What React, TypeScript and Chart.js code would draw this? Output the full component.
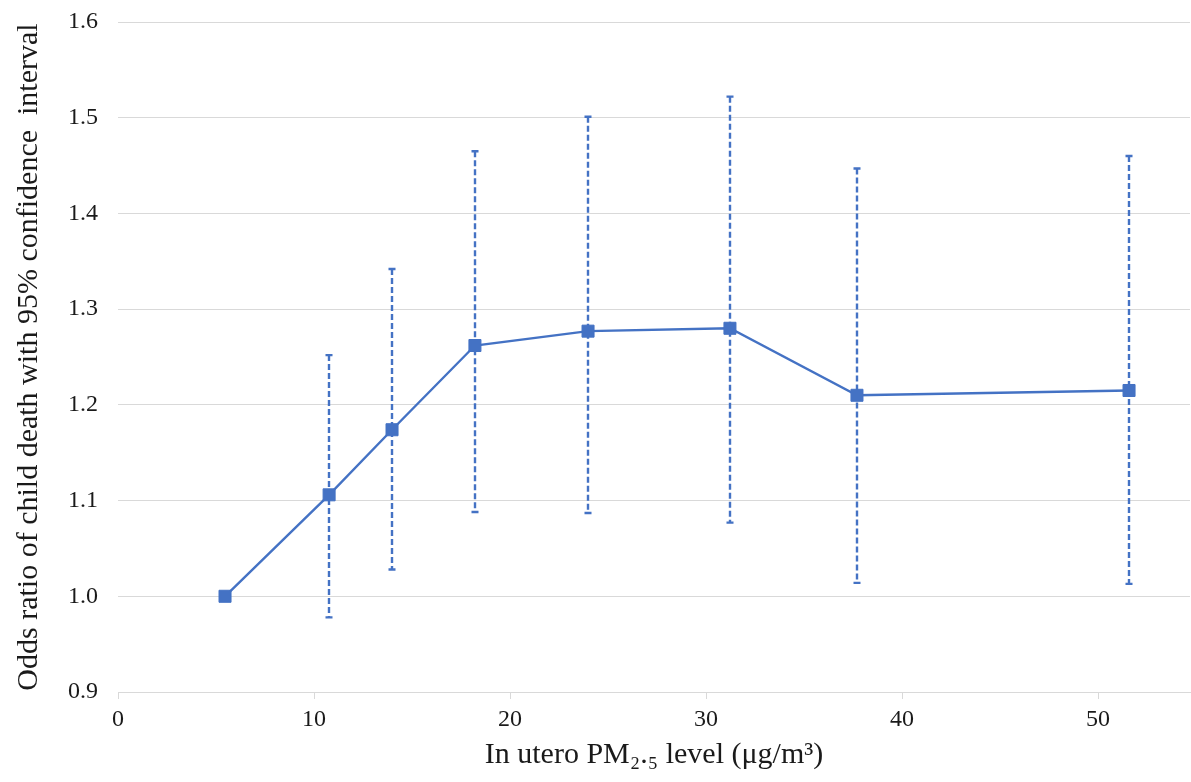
import React, { useEffect, useRef } from "react";
import { Chart, registerables } from "chart.js";

Chart.register(...registerables);

const pmLevels = [5.46, 10.77, 13.98, 18.21, 23.98, 31.22, 37.7, 51.58];
const oddsRatios = [1.0, 1.106, 1.174, 1.262, 1.277, 1.28, 1.21, 1.215];
const ciLower = [null, 0.978, 1.028, 1.088, 1.087, 1.077, 1.014, 1.013];
const ciUpper = [null, 1.252, 1.342, 1.465, 1.501, 1.522, 1.447, 1.46];
const xTickValues = [0, 10, 20, 30, 40, 50];
const yTickValues = [0.9, 1.0, 1.1, 1.2, 1.3, 1.4, 1.5, 1.6];

const BLUE = "#4472C4";
const GRID = "#d9d9d9";
const TEXT = "#1a1a1a";
const FONT = "'Liberation Serif', 'Times New Roman', serif";

const errorBarPlugin = {
  id: "errorBars",
  beforeDatasetsDraw(chart: any) {
    const { ctx, scales } = chart;
    const xs = scales.x;
    const ys = scales.y;
    ctx.save();
    ctx.strokeStyle = BLUE;
    ctx.lineWidth = 2.4;
    for (let i = 0; i < pmLevels.length; i++) {
      const lo = ciLower[i];
      const hi = ciUpper[i];
      if (lo == null || hi == null) continue;
      const px = Math.round(xs.getPixelForValue(pmLevels[i]));
      const pLo = ys.getPixelForValue(lo);
      const pHi = ys.getPixelForValue(hi);
      ctx.setLineDash([6, 3]);
      ctx.beginPath();
      ctx.moveTo(px, pHi);
      ctx.lineTo(px, pLo);
      ctx.stroke();
      ctx.setLineDash([]);
      ctx.beginPath();
      ctx.moveTo(px - 3.5, pHi);
      ctx.lineTo(px + 3.5, pHi);
      ctx.moveTo(px - 3.5, pLo);
      ctx.lineTo(px + 3.5, pLo);
      ctx.stroke();
    }
    ctx.restore();
  },
};

export default function App() {
  const canvasRef = useRef<HTMLCanvasElement | null>(null);

  useEffect(() => {
    document.body.style.margin = "0";
    const canvas = canvasRef.current;
    if (!canvas) return;
    const chart = new Chart(canvas, {
      type: "line",
      data: {
        datasets: [
          {
            data: pmLevels.map((x, i) => ({ x, y: oddsRatios[i] })),
            borderColor: BLUE,
            backgroundColor: BLUE,
            borderWidth: 2.4,
            pointStyle: "rect",
            pointRadius: 8.5,
            pointBorderWidth: 1,
            pointBackgroundColor: BLUE,
            pointBorderColor: BLUE,
            tension: 0,
            clip: false,
          },
        ],
      },
      options: {
        animation: false,
        responsive: false,
        maintainAspectRatio: false,
        layout: { autoPadding: false, padding: { top: 22, right: 1, left: 0, bottom: 0 } },
        plugins: {
          legend: { display: false },
          tooltip: { enabled: false },
        },
        scales: {
          x: {
            type: "linear",
            min: 0,
            max: 54.69,
            afterBuildTicks: (scale: any) => {
              scale.ticks = xTickValues.map((v) => ({ value: v }));
            },
            afterFit: (scale: any) => {
              scale.height = 90;
              scale.paddingLeft = 0;
              scale.paddingRight = 0;
            },
            grid: {
              display: true,
              drawOnChartArea: false,
              drawTicks: true,
              tickLength: 7,
              color: GRID,
              lineWidth: 1,
            },
            border: { display: true, color: GRID, width: 1 },
            ticks: {
              color: TEXT,
              padding: 6,
              font: { family: FONT, size: 24 },
              maxRotation: 0,
            },
            title: {
              display: true,
              text: "In utero PM₂.₅ level (μg/m³)",
              color: TEXT,
              font: { family: FONT, size: 30 },
              padding: { top: 0, bottom: 9 },
            },
          },
          y: {
            type: "linear",
            min: 0.9,
            max: 1.6,
            afterBuildTicks: (scale: any) => {
              scale.ticks = yTickValues.map((v) => ({ value: v }));
            },
            afterFit: (scale: any) => {
              scale.width = 118;
              scale.paddingTop = 0;
              scale.paddingBottom = 0;
            },
            grid: {
              display: true,
              drawTicks: false,
              color: GRID,
              lineWidth: 1,
            },
            border: { display: false },
            ticks: {
              color: TEXT,
              padding: 20,
              font: { family: FONT, size: 24 },
              callback: (v: any) => Number(v).toFixed(1),
            },
            title: {
              display: true,
              text: "Odds ratio of child death with 95% confidence  interval",
              color: TEXT,
              font: { family: FONT, size: 30 },
              padding: { top: 11, bottom: 0 },
            },
          },
        },
      },
      plugins: [errorBarPlugin],
    });
    return () => chart.destroy();
  }, []);

  return (
    <div style={{ position: "fixed", left: 0, top: 0, width: 1191, height: 782, background: "#fff" }}>
      <canvas ref={canvasRef} width={1191} height={782} style={{ display: "block" }} />
    </div>
  );
}
